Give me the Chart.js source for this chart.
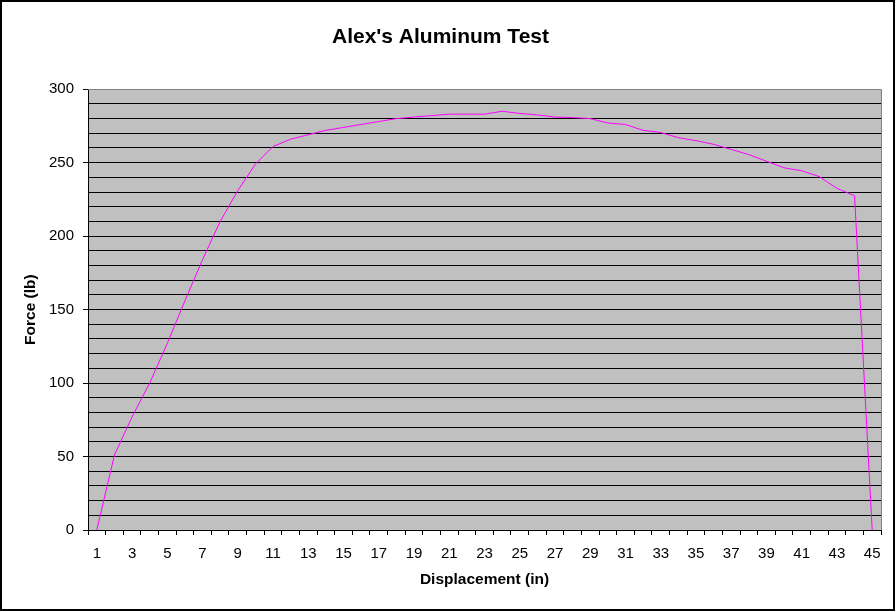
<!DOCTYPE html>
<html>
<head>
<meta charset="utf-8">
<script src="https://cdn.jsdelivr.net/npm/chart.js@4/dist/chart.umd.min.js"></script>
<style>
  html, body { margin: 0; padding: 0; background: #fff; }
  #c { display: block; }
</style>
</head>
<body>
<canvas id="c" width="896" height="612"></canvas>
<script>
// ---- data ----
const categories = [];
for (let i = 1; i <= 45; i++) categories.push(String(i));
const forceValues = [
  0, 51, 77, 100, 127, 156, 184, 210, 231, 249,
  261, 266, 269, 272, 274, 276, 278, 280, 281, 282,
  283, 283, 283, 285, 283.5, 282.5, 281, 280.7, 280, 277,
  276, 272, 270.5, 267, 265, 262.5, 259, 255.5, 251, 246.5,
  244.5, 240.5, 232.5, 227.5, 0
];
const yMin = 0, yMax = 300, yGridStep = 10, yLabelStep = 50;
const chartTitle = "Alex's Aluminum Test";
const xTitle = "Displacement (in)";
const yTitle = "Force (lb)";

const FONT = "'Liberation Sans', Arial, sans-serif";

const framePlugin = {
  id: 'frame',
  beforeDraw(chart) {
    const {ctx, chartArea: a} = chart;
    ctx.save();
    ctx.fillStyle = '#C0C0C0';
    ctx.fillRect(a.left, a.top, a.right - a.left, a.bottom - a.top);
    ctx.restore();
  },
  afterDraw(chart) {
    const {ctx, chartArea: a} = chart;
    ctx.save();
    ctx.strokeStyle = '#808080';
    ctx.lineWidth = 1;
    ctx.beginPath();
    ctx.moveTo(a.left, Math.round(a.top) + 0.5);
    ctx.lineTo(Math.round(a.right) + 0.5, Math.round(a.top) + 0.5);
    ctx.lineTo(Math.round(a.right) + 0.5, a.bottom);
    ctx.stroke();
    ctx.strokeStyle = '#000';
    ctx.lineWidth = 2;
    ctx.strokeRect(1, 1, 893, 609);
    ctx.restore();
  }
};

new Chart(document.getElementById('c'), {
  type: 'line',
  data: {
    labels: categories,
    datasets: [{
      data: forceValues,
      borderColor: '#FF00FF',
      borderWidth: 1,
      pointRadius: 0,
      tension: 0,
      fill: false
    }]
  },
  options: {
    responsive: false,
    animation: false,
    devicePixelRatio: 1,
    layout: { padding: { left: 0, right: 15, top: 0, bottom: 0 } },
    plugins: {
      legend: { display: false },
      tooltip: { enabled: false },
      title: {
        display: true,
        text: chartTitle,
        color: '#000',
        font: { family: FONT, size: 21, weight: 'bold' },
        padding: { top: 25, bottom: 39 }
      }
    },
    scales: {
      x: {
        type: 'category',
        offset: true,
        grid: {
          offset: true,
          drawOnChartArea: false,
          drawTicks: true,
          tickLength: 5,
          tickColor: '#000',
          tickWidth: 1
        },
        border: { display: true, color: '#000', width: 1 },
        ticks: {
          autoSkip: false,
          maxRotation: 0,
          minRotation: 0,
          padding: 10,
          color: '#000',
          font: { family: FONT, size: 15 },
          callback: function(val, idx) { return idx % 2 === 0 ? categories[idx] : ''; }
        },
        title: {
          display: true,
          text: xTitle,
          color: '#000',
          font: { family: FONT, size: 15.5, weight: 'bold' },
          padding: { top: 0, bottom: 23 }
        },
        afterFit: function(scale) { scale.height = 82; }
      },
      y: {
        min: yMin,
        max: yMax,
        grid: {
          color: function(ctx) { return ctx.tick && ctx.tick.value === yMax ? '#808080' : '#000'; },
          lineWidth: 1,
          drawTicks: true,
          tickLength: 5,
          tickColor: function(ctx) { return ctx.tick && ctx.tick.value % yLabelStep === 0 ? '#000' : 'rgba(0,0,0,0)'; }
        },
        border: { display: true, color: '#000', width: 1 },
        ticks: {
          stepSize: yGridStep,
          autoSkip: false,
          padding: 9,
          color: '#000',
          font: { family: FONT, size: 15 },
          callback: function(v) { return v % yLabelStep === 0 ? String(v) : ''; }
        },
        title: {
          display: true,
          text: yTitle,
          color: '#000',
          font: { family: FONT, size: 15.5, weight: 'bold' },
          padding: { top: 21, bottom: 0 }
        },
        afterFit: function(scale) { scale.width = 88; }
      }
    }
  },
  plugins: [framePlugin]
});
</script>
</body>
</html>
